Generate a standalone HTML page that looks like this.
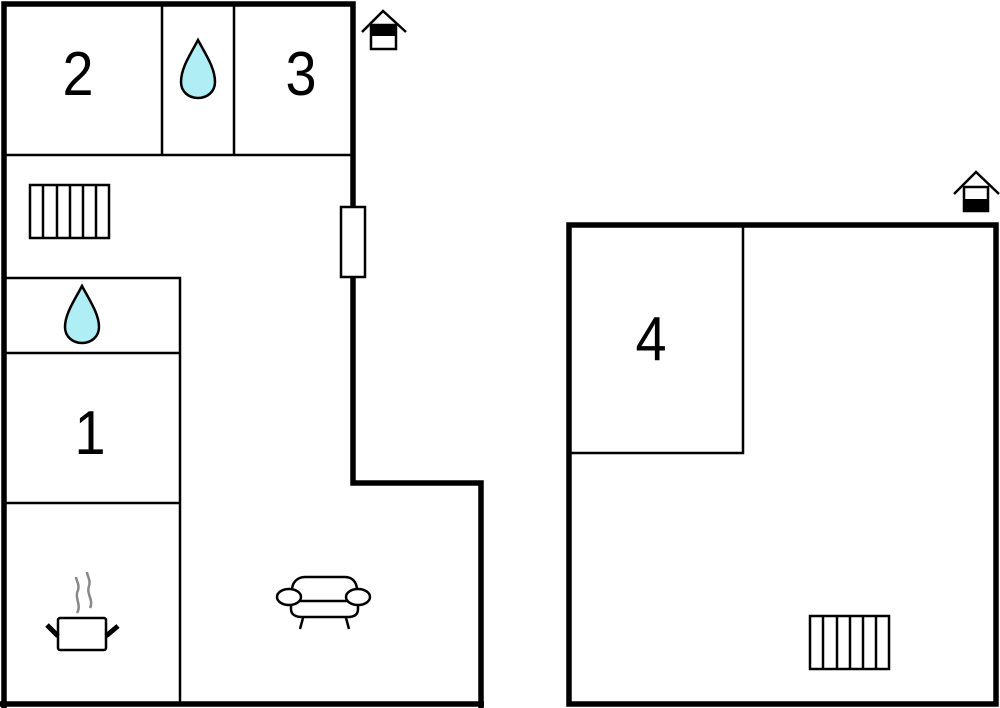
<!DOCTYPE html>
<html><head><meta charset="utf-8"><style>
html,body{margin:0;padding:0;background:#fff;}
svg{display:block;}
text{font-family:"Liberation Sans",sans-serif;font-size:62px;fill:#000;}
</style></head><body>
<svg width="1000" height="708" viewBox="0 0 1000 708" xmlns="http://www.w3.org/2000/svg">
<g fill="none" stroke="#000" stroke-width="2.5">
<line x1="5" y1="155" x2="353" y2="155"/>
<line x1="162" y1="4" x2="162" y2="155"/>
<line x1="234" y1="4" x2="234" y2="155"/>
<polyline points="5,278 180,278 180,704"/>
<line x1="5" y1="353" x2="180" y2="353"/>
<line x1="5" y1="503" x2="180" y2="503"/>
<polyline points="743,225 743,453 569,453"/>
<rect x="30" y="185" width="79" height="53"/>
<line x1="43" y1="185" x2="43" y2="238"/><line x1="57" y1="185" x2="57" y2="238"/><line x1="70" y1="185" x2="70" y2="238"/><line x1="83" y1="185" x2="83" y2="238"/><line x1="96" y1="185" x2="96" y2="238"/>
<rect x="810" y="616" width="79" height="53"/>
<line x1="823" y1="616" x2="823" y2="669"/><line x1="837" y1="616" x2="837" y2="669"/><line x1="850" y1="616" x2="850" y2="669"/><line x1="863" y1="616" x2="863" y2="669"/><line x1="876" y1="616" x2="876" y2="669"/>
</g>
<g fill="none" stroke="#000" stroke-width="5.5">
<polyline points="4,708 4,4 353,4 353,483 481,483 481,708"/>
<line x1="0" y1="704" x2="484" y2="704"/>
<rect x="569" y="225" width="427" height="479"/>
</g>
<rect x="341" y="207" width="24" height="70" fill="#fff" stroke="#000" stroke-width="2.5"/>
<path d="M198,40 C190,55 181,68 181,82 C181,92 189,98 198,98 C207,98 215,92 215,82 C215,68 206,55 198,40 Z" fill="#aeeef4" stroke="#000" stroke-width="2.5"/>
<path d="M82,286 C74,301 65,314 65,327 C65,337 73,343 82,343 C91,343 99,337 99,327 C99,314 90,301 82,286 Z" fill="#aeeef4" stroke="#000" stroke-width="2.5"/>
<g stroke="#000" stroke-width="2.5" fill="none">
<polyline points="362,32 383,11 406,32"/>
<rect x="371" y="25" width="25" height="24" fill="#fff"/>
<polyline points="954,194 976,172 999,194"/>
<rect x="964" y="187" width="24" height="24" fill="#fff"/>
</g>
<rect x="371" y="25" width="25" height="11" fill="#000"/>
<rect x="964" y="199" width="24" height="12" fill="#000"/>
<g stroke="#000" fill="none">
<rect x="58" y="618" width="48" height="32" rx="2" stroke-width="2.5"/>
<line x1="47" y1="625" x2="58" y2="636" stroke-width="5"/>
<line x1="118" y1="626" x2="106" y2="636" stroke-width="5"/>
<path d="M77,613 C82,605 74,598 78,590 C80,585 76,580 76,577" stroke="#888" stroke-width="2.5"/>
<path d="M90,608 C94,600 86,594 89,586 C91,580 87,576 87,572" stroke="#888" stroke-width="2.5"/>
</g>
<g stroke="#000" stroke-width="2.5" fill="#fff">
<path d="M292,598 L292,590 C292,582 298,577 305,577 L345,577 C352,577 357,582 357,590 L357,598"/>
<path d="M291,600 L291,609 C291,615 296,617 302,617 L348,617 C354,617 358,615 358,609 L358,600"/>
<line x1="300" y1="601" x2="348" y2="601"/>
<ellipse cx="289" cy="597" rx="12" ry="8"/>
<ellipse cx="358" cy="597" rx="12" ry="8"/>
<line x1="303" y1="618" x2="300" y2="629"/>
<line x1="346" y1="618" x2="349" y2="629"/>
</g>
<text transform="translate(78,95) scale(0.9,1)" text-anchor="middle">2</text>
<text transform="translate(301,95) scale(0.9,1)" text-anchor="middle">3</text>
<text transform="translate(90,454) scale(0.9,1)" text-anchor="middle">1</text>
<text transform="translate(651,360) scale(0.9,1)" text-anchor="middle">4</text>
</svg>
</body></html>
